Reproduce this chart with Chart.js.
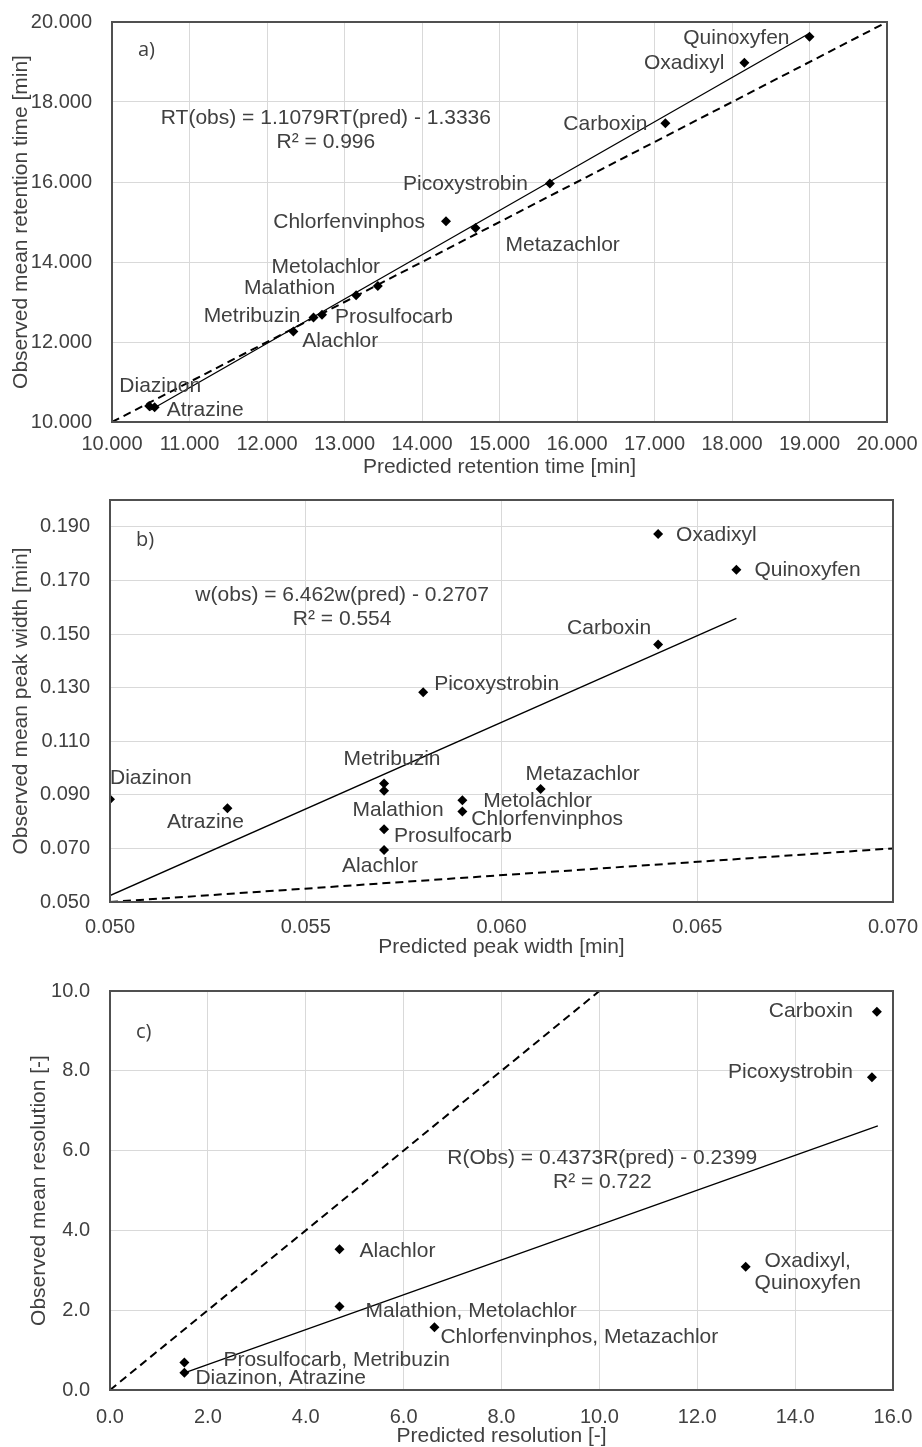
<!DOCTYPE html>
<html>
<head>
<meta charset="utf-8">
<script src="https://cdn.jsdelivr.net/npm/chart.js@4.4.1/dist/chart.umd.min.js"></script>
<style>
  body { margin: 0; background: #fff; }
  .panel { position: absolute; left: 0; width: 922px; }
  canvas { display: block; }
</style>
</head>
<body>
<div class="panel" style="top:0"><canvas id="chartA" width="922" height="480"></canvas></div>
<div class="panel" style="top:480px"><canvas id="chartB" width="922" height="480"></canvas></div>
<div class="panel" style="top:960px"><canvas id="chartC" width="922" height="487"></canvas></div>
<script>
// a) retention time
const rtNames = ['Quinoxyfen', 'Oxadixyl', 'Carboxin', 'Picoxystrobin', 'Chlorfenvinphos', 'Metazachlor',
  'Metolachlor', 'Malathion', 'Prosulfocarb', 'Metribuzin', 'Alachlor', 'Diazinon', 'Atrazine'];
const rtPred = [19.00, 18.16, 17.14, 15.65, 14.31, 14.69, 13.43, 13.15, 12.71, 12.60, 12.34, 10.48, 10.55];
const rtObs  = [19.63, 18.98, 17.47, 15.96, 15.02, 14.85, 13.40, 13.17, 12.68, 12.61, 12.26, 10.40, 10.37];
const rtFitX = [10.48, 19.00];
const rtFitY = [10.28, 19.72];
const rtLine = [10, 20];
const rtXTicks = [10, 11, 12, 13, 14, 15, 16, 17, 18, 19, 20];
const rtYTicks = [10, 12, 14, 16, 18, 20];
const rtEq = ['RT(obs) = 1.1079RT(pred) - 1.3336', 'R² = 0.996'];
const rtEqAt = [12.76, 17.6];

// b) peak width
const pwNames = ['Oxadixyl', 'Quinoxyfen', 'Carboxin', 'Picoxystrobin', 'Metazachlor', 'Metribuzin',
  'Malathion', 'Metolachlor', 'Chlorfenvinphos', 'Prosulfocarb', 'Alachlor', 'Diazinon', 'Atrazine'];
const pwPred = [0.064, 0.066, 0.064, 0.058, 0.061, 0.057, 0.057, 0.059, 0.059, 0.057, 0.057, 0.050, 0.053];
const pwObs  = [0.1873, 0.1740, 0.1461, 0.1283, 0.0922, 0.0942, 0.0915, 0.0880, 0.0838, 0.0771, 0.0694, 0.0883, 0.0850];
const pwFitX = [0.050, 0.066];
const pwFitY = [0.0524, 0.1558];
const pwLine = [0.05, 0.07];
const pwXTicks = [0.050, 0.055, 0.060, 0.065, 0.070];
const pwYTicks = [0.050, 0.070, 0.090, 0.110, 0.130, 0.150, 0.170, 0.190];
const pwEq = ['w(obs) = 6.462w(pred) - 0.2707', 'R² = 0.554'];
const pwEqAt = [0.05593, 0.1646];

// c) resolution
const rsNames = ['Carboxin', 'Picoxystrobin', ['Oxadixyl,', 'Quinoxyfen'], 'Alachlor', 'Malathion, Metolachlor',
  'Chlorfenvinphos, Metazachlor', 'Prosulfocarb, Metribuzin', 'Diazinon, Atrazine'];
const rsPred = [15.67, 15.57, 12.99, 4.69, 4.69, 6.63, 1.52, 1.52];
const rsObs  = [9.48, 7.84, 3.09, 3.53, 2.09, 1.57, 0.69, 0.43];
const rsFitX = [1.52, 15.69];
const rsFitY = [0.43, 6.62];
const rsLine = [0, 10];
const rsXTicks = [0, 2, 4, 6, 8, 10, 12, 14, 16];
const rsYTicks = [0, 2, 4, 6, 8, 10];
const rsEq = ['R(Obs) = 0.4373R(pred) - 0.2399', 'R² = 0.722'];
const rsEqAt = [10.06, 5.81];

// label placement: [dx, dy, align] relative to marker
const rtPlace = [[-20, 1, 'right'], [-20, 0, 'right'], [-18, 1, 'right'], [-22, 1, 'right'], [-21, 1, 'right'],
  [30, 17, 'left'], [-52, -19, 'center'], [-21, -7, 'right'], [13, 2, 'left'], [-13, -1, 'right'],
  [9, 10, 'left'], [11, -20, 'center'], [12, 3, 'left']];
const pwPlace = [[18, 1, 'left'], [18, 1, 'left'], [-7, -16, 'right'], [11, -8, 'left'], [42, -15, 'center'],
  [8, -24, 'center'], [14, 19, 'center'], [21, 1, 'left'], [9, 8, 'left'], [10, 7, 'left'],
  [-4, 16, 'center'], [0, -21, 'left'], [-22, 14, 'center']];
const rsPlace = [[-24, -1, 'right'], [-19, -5, 'right'], [62, -6, 'center'], [20, 2, 'left'], [26, 5, 'left'],
  [6, 10, 'left'], [39, -2, 'left'], [11, 5, 'left']];

const TEXT = '#404040';
const FONT = "'Liberation Sans', Arial, sans-serif";

const annotate = {
  id: 'annotate',
  afterDatasetsDraw(chart, args, opts) {
    const ctx = chart.ctx;
    const xs = chart.scales.x, ys = chart.scales.y;
    const area = chart.chartArea;
    ctx.save();
    ctx.fillStyle = TEXT;
    ctx.font = '21px ' + FONT;
    ctx.textBaseline = 'middle';
    opts.names.forEach((name, i) => {
      const px = xs.getPixelForValue(opts.px[i]);
      const py = ys.getPixelForValue(opts.py[i]);
      const [dx, dy, align] = opts.place[i];
      ctx.textAlign = align;
      const lines = Array.isArray(name) ? name : [name];
      lines.forEach((t, k) => ctx.fillText(t, px + dx, py + dy + k * 22));
    });
    // trendline equation
    ctx.textAlign = 'center';
    const ex = xs.getPixelForValue(opts.eqAt[0]);
    const ey = ys.getPixelForValue(opts.eqAt[1]);
    opts.eq.forEach((t, k) => ctx.fillText(t, ex, ey + k * 24));
    // panel letter
    ctx.textAlign = 'left';
    ctx.font = "20px 'Open Sans', sans-serif";
    ctx.fillText(opts.letter, area.left + 26, area.top + opts.letterY);
    ctx.restore();
  },
  afterDraw(chart) {
    const a = chart.chartArea, ctx = chart.ctx;
    ctx.save();
    ctx.strokeStyle = '#505050';
    ctx.lineWidth = 2;
    ctx.strokeRect(a.left, a.top, a.right - a.left, a.bottom - a.top);
    ctx.restore();
  }
};

function makeChart(id, d) {
  const pts = d.px.map((x, i) => ({ x: x, y: d.py[i] }));
  const fit = d.fitX.map((x, i) => ({ x: x, y: d.fitY[i] }));
  const one = d.line.map(v => ({ x: v, y: v }));
  return new Chart(document.getElementById(id), {
    type: 'scatter',
    data: {
      datasets: [
        { data: pts, pointStyle: 'rectRot', pointRadius: 5, pointBorderWidth: 0,
          backgroundColor: '#000', borderColor: '#000' },
        { data: fit, showLine: true, pointRadius: 0, borderColor: '#000', borderWidth: 1.3 },
        { data: one, showLine: true, pointRadius: 0, borderColor: '#000', borderWidth: 2, borderDash: [8, 5] }
      ]
    },
    options: {
      responsive: false,
      animation: false,
      events: [],
      layout: { padding: { left: 0, top: d.top, right: 922 - d.right, bottom: 0 } },
      plugins: {
        legend: { display: false },
        tooltip: { enabled: false },
        annotate: { names: d.names, px: d.px, py: d.py, place: d.place, eq: d.eq, eqAt: d.eqAt,
          letter: d.letter, letterY: d.letterY }
      },
      scales: {
        x: {
          type: 'linear', min: d.xMin, max: d.xMax,
          afterFit: s => { s.height = d.h - d.bottom; },
          afterBuildTicks: s => { s.ticks = d.xTicks.map(v => ({ value: v })); },
          grid: { color: '#d9d9d9', lineWidth: 1, drawTicks: true, tickLength: d.xTickGap, tickColor: 'rgba(0,0,0,0)' },
          border: { display: false },
          ticks: { autoSkip: false, maxRotation: 0, padding: 0, color: TEXT,
            font: { family: FONT, size: 20 }, callback: v => v.toFixed(d.xDec) },
          title: { display: true, text: d.xTitle, color: TEXT, font: { family: FONT, size: 21, lineHeight: 1 },
            padding: { top: 0, bottom: d.xTitlePad } }
        },
        y: {
          type: 'linear', min: d.yMin, max: d.yMax,
          afterFit: s => { s.width = d.left; },
          afterBuildTicks: s => { s.ticks = d.yTicks.map(v => ({ value: v })); },
          grid: { color: '#d9d9d9', lineWidth: 1, drawTicks: true, tickLength: 20, tickColor: 'rgba(0,0,0,0)' },
          border: { display: false },
          ticks: { padding: 0, color: TEXT,
            font: { family: FONT, size: 20 }, callback: v => v.toFixed(d.yDec) },
          title: { display: true, text: d.yTitle, color: TEXT, font: { family: FONT, size: 21, lineHeight: 1 },
            padding: { top: d.yTitlePad, bottom: 0 } }
        }
      }
    },
    plugins: [annotate]
  });
}

makeChart('chartA', {
  names: rtNames, px: rtPred, py: rtObs, place: rtPlace, fitX: rtFitX, fitY: rtFitY, line: rtLine,
  eq: rtEq, eqAt: rtEqAt, letter: 'a)', letterY: 28,
  h: 480, left: 112, right: 887, top: 22, bottom: 422,
  xMin: 10, xMax: 20, xTicks: rtXTicks, xDec: 3, yMin: 10, yMax: 20, yTicks: rtYTicks, yDec: 3,
  xTickGap: 10, xTitle: 'Predicted retention time [min]', yTitle: 'Observed mean retention time [min]',
  xTitlePad: 2, yTitlePad: 11
});

makeChart('chartB', {
  names: pwNames, px: pwPred, py: pwObs, place: pwPlace, fitX: pwFitX, fitY: pwFitY, line: pwLine,
  eq: pwEq, eqAt: pwEqAt, letter: 'b)', letterY: 40,
  h: 480, left: 110, right: 893, top: 20, bottom: 422,
  xMin: 0.05, xMax: 0.07, xTicks: pwXTicks, xDec: 3, yMin: 0.05, yMax: 0.2, yTicks: pwYTicks, yDec: 3,
  xTickGap: 13, xTitle: 'Predicted peak width [min]', yTitle: 'Observed mean peak width [min]',
  xTitlePad: 2, yTitlePad: 11
});

makeChart('chartC', {
  names: rsNames, px: rsPred, py: rsObs, place: rsPlace, fitX: rsFitX, fitY: rsFitY, line: rsLine,
  eq: rsEq, eqAt: rsEqAt, letter: 'c)', letterY: 41,
  h: 487, left: 110, right: 893, top: 31, bottom: 430,
  xMin: 0, xMax: 16, xTicks: rsXTicks, xDec: 1, yMin: 0, yMax: 10, yTicks: rsYTicks, yDec: 1,
  xTickGap: 15, xTitle: 'Predicted resolution [-]', yTitle: 'Observed mean resolution [-]',
  xTitlePad: 0, yTitlePad: 29
});
</script>
</body>
</html>
